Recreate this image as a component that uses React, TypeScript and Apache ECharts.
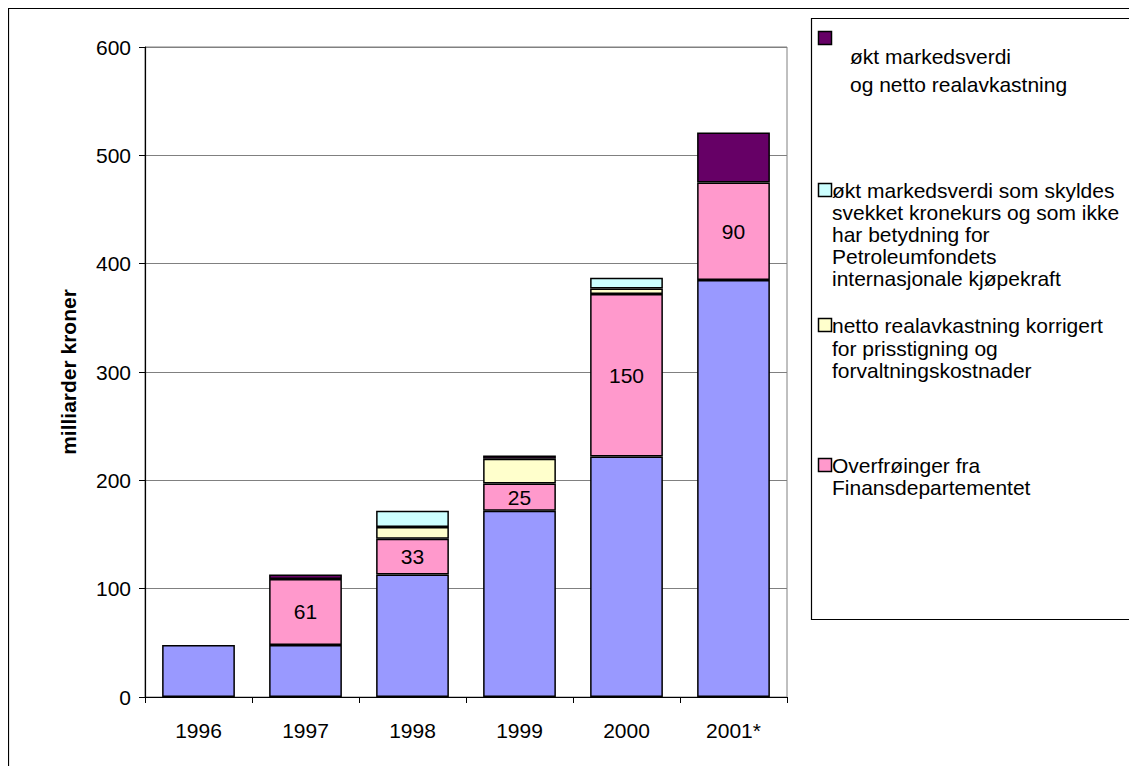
import React, { useEffect, useRef } from "react";
import * as echarts from "echarts";

const categories = ["1996", "1997", "1998", "1999", "2000", "2001*"];
const baseValues = [48, 48, 113, 172, 222, 385];
const transfers = [null, 61, 33, 25, 150, 90];
const realReturn = [null, null, 11, 23, 5, null];
const currencyEffect = [null, null, 15, null, 10, null];
const marketValue = [null, 4, null, 3, null, 46];

const yTicks = { min: 0, max: 600, interval: 100 };
const yAxisTitle = "milliarder kroner";

const legendItems = [
  { lines: ["økt markedsverdi", "og netto realavkastning"], color: "#660066" },
  {
    lines: [
      "økt markedsverdi som skyldes",
      "svekket kronekurs og som ikke",
      "har betydning for",
      "Petroleumfondets",
      "internasjonale kjøpekraft",
    ],
    color: "#CCFFFF",
  },
  {
    lines: ["netto realavkastning korrigert", "for prisstigning og", "forvaltningskostnader"],
    color: "#FFFFCC",
  },
  { lines: ["Overfrøinger fra", "Finansdepartementet"], color: "#FF99CC" },
];

const FONT = "'Liberation Sans', Arial, sans-serif";
const FS = 21;

export default function App() {
  const ref = useRef<HTMLDivElement>(null);
  useEffect(() => {
    if (!ref.current) return;
    const chart = echarts.init(ref.current, undefined, { renderer: "svg" });
    const border = { borderColor: "#000", borderWidth: 1.5 };
    const mk = (name: string, data: any[], color: string, label = false) => ({
      name,
      type: "bar",
      stack: "total",
      barWidth: "68%",
      data,
      itemStyle: { color, ...border },
      label: label
        ? { show: true, position: "inside", color: "#000", fontSize: FS, fontFamily: FONT }
        : { show: false },
      emphasis: { disabled: true },
    });

    const g: any[] = [
      { type: "rect", shape: { x: 0.5, y: 0.5, width: 3000, height: 3000 }, style: { fill: "none", stroke: "#000", lineWidth: 1.2 }, silent: true },
      { type: "rect", shape: { x: 803.5, y: 10.5, width: 500, height: 601 }, style: { fill: "#fff", stroke: "#000", lineWidth: 1.2 }, silent: true },
    ];
    const squareY = [23, 175, 310, 450];
    const textPos = [
      { x: 842, ys: [48, 76] },
      { x: 824, ys: [182, 204, 226, 248, 270] },
      { x: 824, ys: [317, 340, 362] },
      { x: 824, ys: [457, 479] },
    ];
    legendItems.forEach((it, i) => {
      g.push({
        type: "rect",
        shape: { x: 810.5, y: squareY[i] + 0.5, width: 13, height: 13 },
        style: { fill: it.color, stroke: "#000", lineWidth: 1.5 },
        silent: true,
      });
      it.lines.forEach((ln, j) => {
        g.push({
          type: "text",
          x: textPos[i].x,
          y: textPos[i].ys[j],
          style: { text: ln, fill: "#000", fontSize: FS, fontFamily: FONT, verticalAlign: "middle", align: "left" },
          silent: true,
        });
      });
    });

    chart.setOption({
      animation: false,
      backgroundColor: "#fff",
      textStyle: { fontFamily: FONT },
      grid: { left: 137, top: 39, width: 642, height: 650, show: true, borderColor: "#808080", borderWidth: 1, containLabel: false },
      xAxis: {
        type: "category",
        data: categories,
        axisLine: { lineStyle: { color: "#000", width: 1.2 } },
        axisTick: { show: true, alignWithLabel: false, length: 6, lineStyle: { color: "#000" } },
        axisLabel: { color: "#000", fontSize: FS, fontFamily: FONT, margin: 23 },
      },
      yAxis: {
        type: "value",
        min: yTicks.min,
        max: yTicks.max,
        interval: yTicks.interval,
        name: yAxisTitle,
        nameLocation: "middle",
        nameRotate: 90,
        nameGap: 66,
        nameTextStyle: { color: "#000", fontSize: FS, fontWeight: "bold", fontFamily: FONT },
        axisLine: { show: true, lineStyle: { color: "#000", width: 1.2 } },
        axisTick: { show: true, length: 6, lineStyle: { color: "#000" } },
        axisLabel: { color: "#000", fontSize: FS, fontFamily: FONT, margin: 14 },
        splitLine: { show: true, lineStyle: { color: "#808080", width: 1 } },
      },
      series: [
        mk("base", baseValues, "#9999FF"),
        mk("Overfrøinger fra Finansdepartementet", transfers, "#FF99CC", true),
        mk("netto realavkastning", realReturn, "#FFFFCC"),
        mk("kronekurs", currencyEffect, "#CCFFFF"),
        mk("økt markedsverdi og netto realavkastning", marketValue, "#660066"),
      ],
      graphic: g,
    });
    return () => chart.dispose();
  }, []);
  return (
    <div
      ref={ref}
      style={{ position: "fixed", left: 8, top: 8, width: 1121, height: 758, background: "#fff" }}
    />
  );
}
